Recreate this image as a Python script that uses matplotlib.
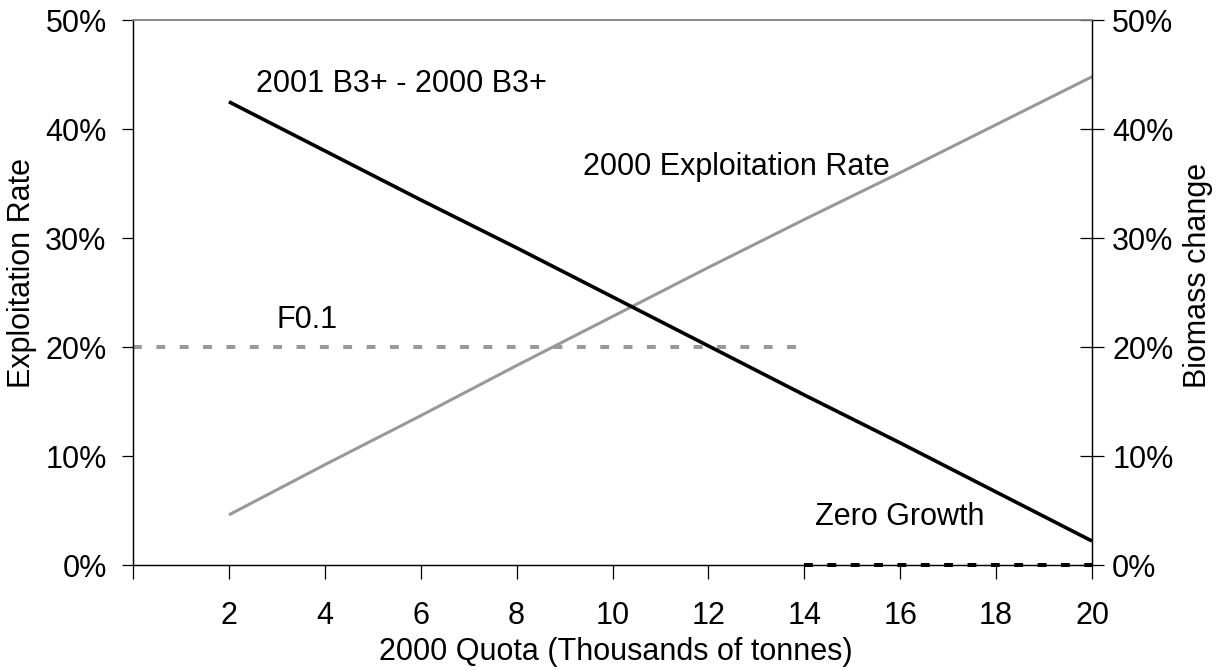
import matplotlib

matplotlib.use("Agg")
import matplotlib.pyplot as plt
from matplotlib.ticker import FuncFormatter

plt.rcParams["font.family"] = ["Liberation Sans", "DejaVu Sans"]

# data
quota = [2, 4, 6, 8, 10, 12, 14, 16, 18, 20]
exploitation_rate = [4.6, 9.2, 13.7, 18.3, 22.8, 27.3, 31.7, 36.0, 40.4, 44.8]
biomass_change = [42.5, 38.0, 33.5, 29.1, 24.6, 20.1, 15.6, 11.2, 6.7, 2.2]
f01_x = [0, 14]
f01_y = [20, 20]
zero_growth_x = [14, 20]
zero_growth_y = [0, 0]
x_ticks = [0, 2, 4, 6, 8, 10, 12, 14, 16, 18, 20]
x_tick_labels = ["", "2", "4", "6", "8", "10", "12", "14", "16", "18", "20"]
y_ticks = [0, 10, 20, 30, 40, 50]

GREY = "#999999"
FS = 22

fig = plt.figure(figsize=(12.17, 6.70), dpi=100)
ax = fig.add_axes([0.1093, 0.1567, 0.788, 0.8134])
ax2 = ax.twinx()

ax.plot(f01_x, f01_y, color=GREY, lw=2.9, dashes=(2.2, 3.6), dash_capstyle="butt")
ax.plot(quota, exploitation_rate, color=GREY, lw=2.2, solid_capstyle="butt")
ax2.plot(quota, biomass_change, color="black", lw=2.6, solid_capstyle="butt")
ax2.plot(zero_growth_x, zero_growth_y, color="black", lw=2.9, dashes=(2.2, 3.6),
         dash_capstyle="butt", clip_on=False, zorder=5)

for a in (ax, ax2):
    a.set_xlim(0, 20)
    a.set_ylim(0, 50)
    a.set_yticks(y_ticks)
    a.yaxis.set_major_formatter(FuncFormatter(lambda v, _: f"{v:.0f}%"))
    for side in ("left", "right", "bottom"):
        a.spines[side].set_color("black")
        a.spines[side].set_linewidth(0.9)
    a.spines["top"].set_color("#888888")
    a.spines["top"].set_linewidth(1.2)

ax.set_xticks(x_ticks)
ax.set_xticklabels(x_tick_labels)
ax.tick_params(axis="x", direction="out", length=10, width=0.9, labelsize=FS, pad=16)
ax.tick_params(axis="y", direction="out", length=8, width=0.9, labelsize=FS, pad=11)
ax2.tick_params(axis="y", direction="inout", length=17, width=0.9, labelsize=FS, pad=6)

fig.text(0.506, 0.027, "2000 Quota (Thousands of tonnes)", fontsize=FS,
         ha="center", va="center")
fig.text(0.0181, 0.5925, "Exploitation Rate", fontsize=FS, rotation=90,
         ha="center", va="center")
fig.text(0.9840, 0.5896, "Biomass change", fontsize=FS, rotation=90,
         ha="center", va="center")

ax.text(2.56, 44.1, "2001 B3+ - 2000 B3+", fontsize=FS, va="center", ha="left")
ax.text(9.38, 36.5, "2000 Exploitation Rate", fontsize=FS, va="center", ha="left")
ax.text(3.0, 22.5, "F0.1", fontsize=FS, va="center", ha="left")
ax.text(14.22, 4.4, "Zero Growth", fontsize=FS, va="center", ha="left")

fig.savefig("out.png", dpi=100)
